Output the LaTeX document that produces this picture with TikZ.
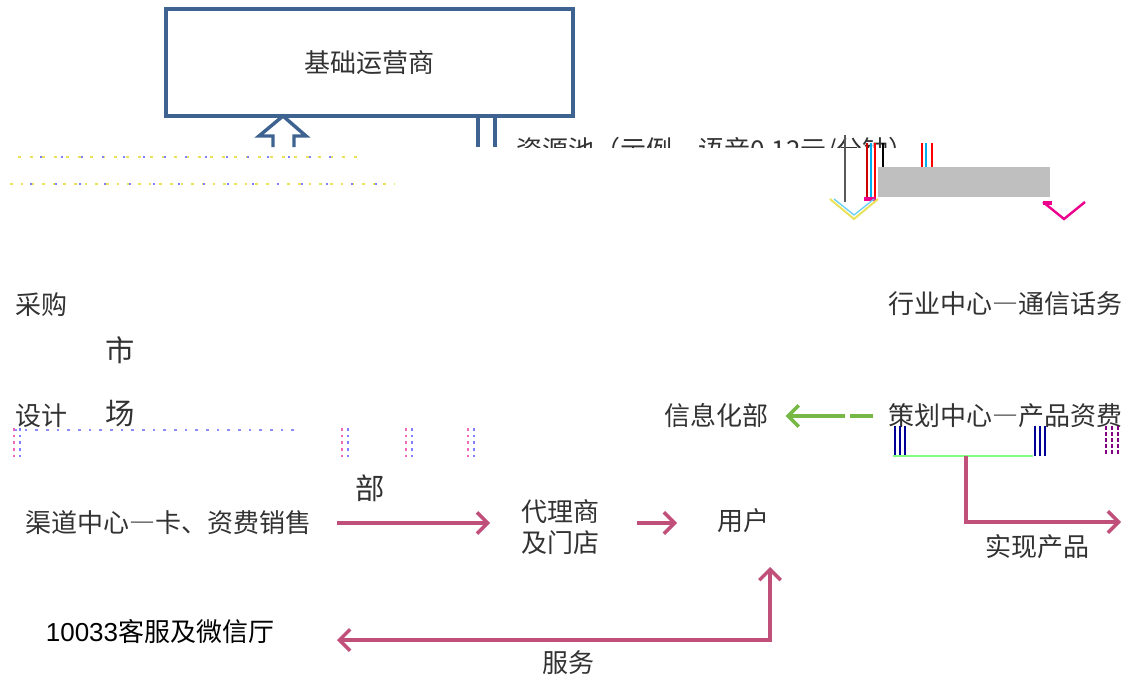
\documentclass[tikz,border=0pt]{standalone}
\usepackage{fontspec}
\newfontfamily\cjk{Noto Sans CJK SC}
\newfontfamily\arial{Liberation Sans}
\usetikzlibrary{arrows.meta}
\definecolor{boxblue}{RGB}{63,99,144}
\definecolor{pinkc}{RGB}{192,80,122}
\definecolor{greenc}{RGB}{119,185,71}
\definecolor{txt}{RGB}{50,50,50}
\definecolor{grayfill}{RGB}{191,191,191}
\definecolor{noiseY}{RGB}{235,225,90}
\newcommand\fwdash{{\addfontfeature{RawFeature=+fwid}—}}
\begin{document}
\begin{tikzpicture}[x=0.75pt,y=-0.75pt,
 lbl/.style={font=\cjk\fontsize{19.5}{23}\selectfont, text=txt, inner sep=0pt},
 big/.style={font=\cjk\fontsize{22}{24}\selectfont, text=txt, inner sep=0pt},
 barb/.tip={Straight Barb[length=8pt,width=16pt,line width=2.6pt]},
 parr/.style={draw=pinkc, line width=2.8pt, -barb},
 glitch/.style={line width=1.5pt},
]
\useasboundingbox (0,0) rectangle (1127,682);

% top box
\node[lbl, draw=boxblue, line width=2.6pt, minimum width=305pt, minimum height=80pt] (bop) at (369.5,62.5) {基础运营商};

% hollow up arrow
\draw[boxblue, line width=2.6pt, line join=miter]
  (273,147) -- (273,136) -- (259,136) -- (283,116) -- (306,136) -- (294,136) -- (294,147);

% double lines
\draw[boxblue, line width=2.6pt] (478,116) -- (478,147) (495,116) -- (495,147);

% clipped resource pool text
\begin{scope}
\clip (505,120) rectangle (960,147.5);
\node[lbl, anchor=west] (pool) at (516,150.5) {资源池（示例，语音0.12元/分钟）};
\end{scope}

% grey block and glitch lines
\fill[grayfill] (878,167) rectangle (1050,197);
\draw[gray!70!black, line width=1.2pt] (845,135) -- (845,202);
\draw[glitch, red!80!black] (867,143) -- (867,198);
\draw[glitch, cyan] (871,143) -- (871,198);
\draw[glitch, red] (875,143) -- (875,198);
\draw[glitch, black] (883,143) -- (883,167);
\draw[glitch, red] (922,143) -- (922,167);
\draw[glitch, cyan] (926,143) -- (926,167);
\draw[glitch, red] (932,143) -- (932,167);
\draw[magenta, line width=2.5pt] (864,199) -- (876,199);
\draw[magenta, line width=2.5pt] (1043,203) -- (1052,203);

% open chevrons
\draw[noiseY, line width=1.5pt] (830,199) -- (854,219) -- (878,199);
\draw[cyan!60, line width=1pt] (834,199) -- (854,215) -- (874,199);
\draw[magenta, line width=1.8pt] (1043,202) -- (1064,219) -- (1085,202);

% noise rows (garbled text)
\draw[noiseY, line width=1.4pt, dash pattern=on 2pt off 7pt] (18,157) -- (360,157);
\draw[noiseY, line width=1.4pt, dash pattern=on 2pt off 6pt] (10,184) -- (395,184);
\draw[blue!50, line width=1pt, dash pattern=on 1.5pt off 14pt] (40,157) -- (350,157);
\draw[blue!50, line width=1pt, dash pattern=on 1.5pt off 17pt] (30,184) -- (390,184);

% left labels
\node[lbl] (caigou) at (42,305) {采购};
\node[big] (shi) at (120,350) {市};
\node[lbl] (sheji) at (42,416) {设计};
\node[big] (chang) at (120,414) {场};
\node[big] (bu) at (370,488) {部};
\draw[blue!45, line width=1pt, dash pattern=on 2pt off 6pt] (14,430) -- (300,430);
\foreach \xx in {14,342,406,468} {
  \draw[magenta!60, line width=1.2pt, dash pattern=on 2pt off 3pt] (\xx,428) -- (\xx,458);
  \draw[blue!50, line width=1.2pt, dash pattern=on 2pt off 3pt] (\xx+6,428) -- (\xx+6,458);
}

% right labels
\node[lbl] (hangye) at (1005,304) {行业中心\fwdash 通信话务};
\node[lbl] (cehua) at (1005,416) {策划中心\fwdash 产品资费};
\node[lbl] (xinxi) at (716,416) {信息化部};

% green arrow
\coordinate (gstart) at (873,416);
\draw[greenc, line width=2.8pt, dash pattern=on 17pt off 4pt on 200pt,
  -{Straight Barb[length=8pt,width=16pt,line width=2.6pt]}, shorten >=13pt] (gstart) -- (xinxi.east);

% bracket under cehua
\draw[glitch, blue!60!black] (895,426) -- (895,456) (900,426) -- (900,456) (905,426) -- (905,456);
\draw[glitch, blue!60!black] (1035,426) -- (1035,456) (1040,426) -- (1040,456) (1045,426) -- (1045,456);
\draw[green!50, line width=1.2pt] (893,456) -- (1033,456);
\draw[blue!50!red, line width=1.4pt, dash pattern=on 3pt off 1.5pt] (1106,426) -- (1106,456) (1112,426) -- (1112,456) (1118,426) -- (1118,456);

% realise product
\coordinate (bk) at (966,456);
\coordinate (shend) at (1121,522);
\draw[parr] (bk) |- (shend);
\node[lbl] (shixian) at (1037,547) {实现产品};

% bottom flow
\node[lbl] (qudao) at (168,523) {渠道中心\fwdash 卡、资费销售};
\node[lbl, align=center] (daili) at (560,527) {代理商\\及门店};
\node[lbl] (yonghu) at (743,521) {用户};
\draw[parr, shorten <=19pt, shorten >=23pt] (qudao.east) -- (qudao.east -| daili.west);
\coordinate (d1) at (637,523);
\coordinate (d2) at (677,523);
\draw[parr] (d1) -- (d2);

\node[font=\cjk\fontsize{19.5}{23}\selectfont, inner sep=0pt, text=black] (kefu) at (160,632) {{\arial 10033}客服及微信厅};
\coordinate (sv) at (770,567);
\coordinate (sl) at (337,640);
\draw[pinkc, line width=2.8pt, barb-barb] (sl) -| (sv);
\node[lbl] (fuwu) at (568,663) {服务};
\end{tikzpicture}
\end{document}
